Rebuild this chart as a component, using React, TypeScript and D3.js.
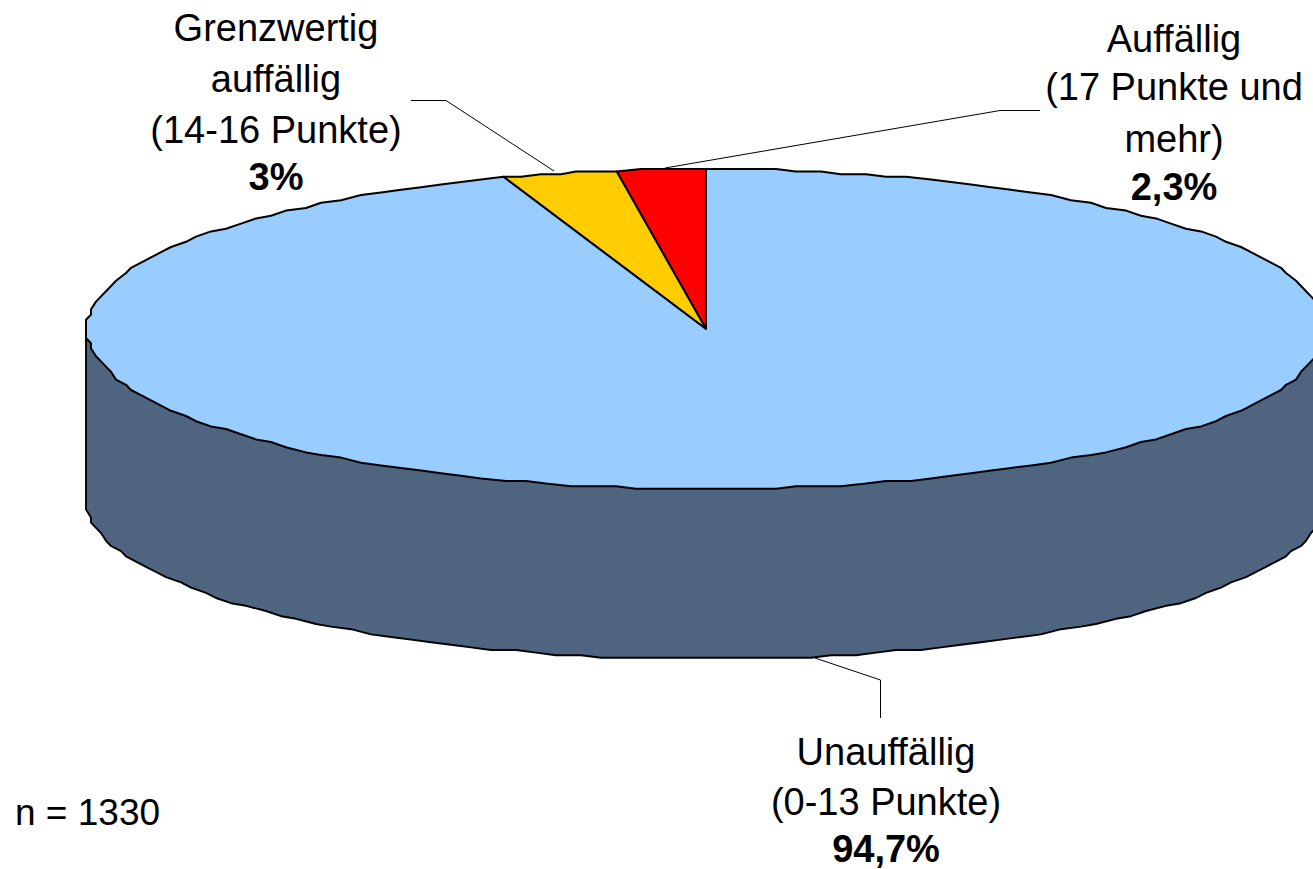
import React from "react";
import * as d3 from "d3";

const categories = ["Auffällig", "Grenzwertig", "Unauffällig"];
const values = [2.3, 3, 94.7];
const colors = ["#ff0000", "#ffcc00", "#99ccff"];
const sideColor = "#4f647f";

const labelBlocks = [
  { cx: 276, ys: [41, 92, 143, 190], lines: ["Grenzwertig", "auffällig", "(14-16 Punkte)"], value: "3%" },
  { cx: 1174, ys: [52, 100, 152, 200], lines: ["Auffällig", "(17 Punkte und", "mehr)"], value: "2,3%" },
  { cx: 886, ys: [765, 815, 862], lines: ["Unauffällig", "(0-13 Punkte)"], value: "94,7%" },
];
const font = "'Liberation Sans', Arial, sans-serif";

const W = 1313, H = 869;
const cx = 706, cy = 329, rx = 620, ry = 160, depth = 170;
const gridY = 2.6, gridX = 5;

function pt(a: number, dy = 0, exactX = false): [number, number] {
  const x = cx + rx * Math.sin(a);
  const y = cy - ry * Math.cos(a) + dy;
  const left = cx - rx;
  return [exactX ? x : left + Math.round((x - left) / gridX) * gridX, Math.round(y / gridY) * gridY];
}
function arcPts(a0: number, a1: number, dy = 0) {
  const n = Math.max(2, Math.ceil(Math.abs(a1 - a0) / (Math.PI / 85)));
  return d3.range(n + 1).map((i) => pt(a0 + ((a1 - a0) * i) / n, dy, i === 0 || i === n));
}
const line = d3.line<[number, number]>().x((d) => d[0]).y((d) => d[1]);

const arcs = d3.pie<number>().sort(null).startAngle(0).endAngle(-2 * Math.PI)(values);

export default function App() {
  const side = [pt((3 * Math.PI) / 2), ...arcPts((3 * Math.PI) / 2, Math.PI / 2, depth), pt(Math.PI / 2)];
  return (
    <svg width={W} height={H} style={{ position: "absolute", left: 0, top: 0, background: "#fff" }}>
      <path d={line(side)! + "Z"} fill={sideColor} stroke="#000" strokeWidth={1.9} strokeLinejoin="round" />
      {arcs.map((d, i) => (
        <path
          key={categories[i]}
          d={line([[cx, cy], ...arcPts(d.startAngle, d.endAngle)])! + "Z"}
          fill={colors[i]}
          stroke="#000"
          strokeWidth={2}
          strokeLinejoin="round"
        />
      ))}
      <g fill="none" stroke="#000" strokeWidth={1}>
        <path d={line([[411, 100.5], [446, 100.5], [554, 171]])!} />
        <path d={line([[665, 168], [1000, 110.5], [1040, 110.5]])!} />
        <path d={line([[815, 658], [880.5, 680], [880.5, 718]])!} />
      </g>
      <g fontFamily={font} fontSize={38} fill="#000" textAnchor="middle">
        {labelBlocks.map((b) => (
          <g key={b.lines[0]}>
            {b.lines.map((t, i) => (
              <text key={t} x={b.cx} y={b.ys[i]}>{t}</text>
            ))}
            <text x={b.cx} y={b.ys[b.ys.length - 1]} fontWeight="bold">{b.value}</text>
          </g>
        ))}
        <text x={15} y={825} textAnchor="start" fontSize={37}>n = 1330</text>
      </g>
    </svg>
  );
}
